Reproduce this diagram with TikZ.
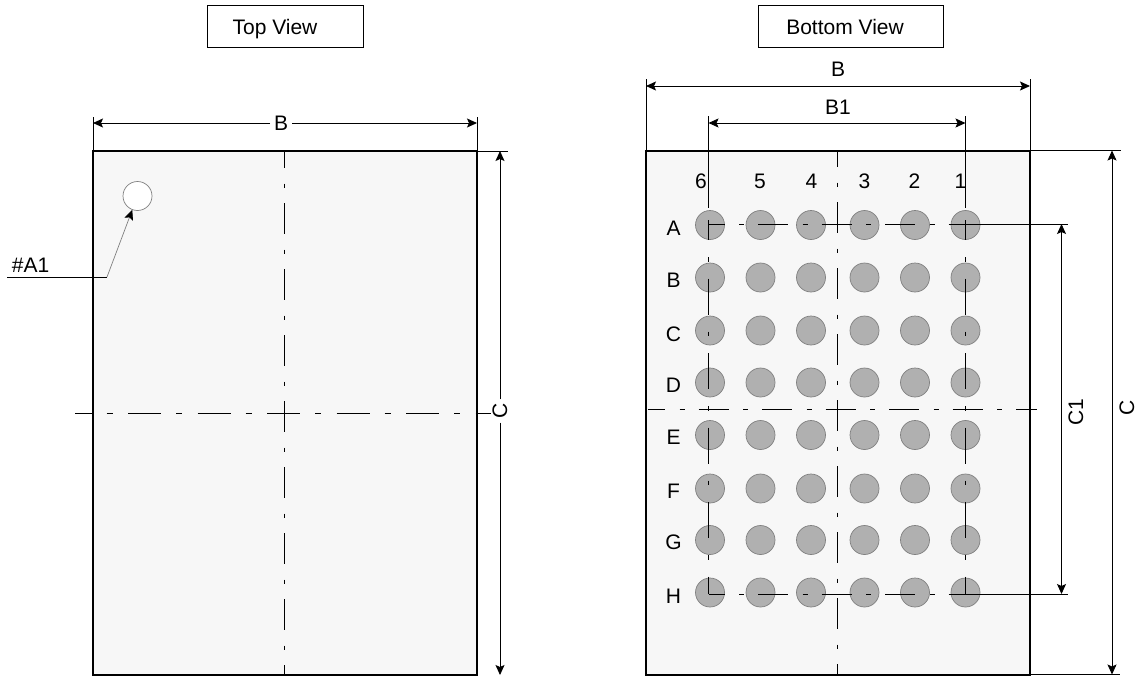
\documentclass[tikz,border=0pt]{standalone}
\usepackage{fontspec}
\setmainfont{Liberation Sans}
\usepackage{tikz}
\usetikzlibrary{arrows.meta, positioning}
\colorlet{colorPackage}{black!3}
\colorlet{colorBall}{black!31}
\colorlet{colorBallEdge}{black!50}
\tikzset{
  outline/.style={draw=black, line width=2pt, fill=colorPackage, inner sep=0, outer sep=0},
  titlebox/.style={draw=black, line width=0.8pt, inner sep=0, outer sep=0, minimum height=42pt},
  label/.style={inner sep=0, outer sep=4pt, font=\fontsize{21}{24}\selectfont},
  ball/.style={circle, draw=colorBallEdge, line width=0.7pt, fill=colorBall, inner sep=0, outer sep=0, minimum size=29pt},
  dim/.style={line width=0.9pt},
  centerLong/.style={line width=0.9pt, dash pattern=on 31pt off 15.5pt on 4.5pt off 15pt},
  centerHoriz/.style={line width=0.9pt, dash pattern=on 33pt off 15pt on 6pt off 15.5pt},
  centerWide/.style={line width=0.9pt, dash pattern=on 30pt off 14.5pt on 5pt off 14pt},
  centerBall/.style={line width=0.9pt, dash pattern=on 36pt off 17pt on 4.5pt off 17pt}
}

\begin{document}
\begin{tikzpicture}[>={Stealth[length=10pt, width=9pt, inset=2pt]}, x=1pt, y=-1pt]
\useasboundingbox (0,0) rectangle (1139,675);
% titles
\node[titlebox, minimum width=156pt] (topTitle) at (285.5,26.3) {};
\node[label] (topText) at (275,29) {Top View};
\node[titlebox, minimum width=185pt] (botTitle) at (851,26.3) {};
\node[label] (botText) at (845,27) {Bottom View};
% packages
\node[outline, minimum width=384pt, minimum height=524pt] (top) at (285,413) {};
\node[outline, minimum width=384pt, minimum height=524pt] (bot) at (838,412.5) {};
% top view
\coordinate (topCL1) at (284.5,151);
\coordinate (topCL2) at (284.5,675);
\coordinate (topCH1) at (75,413.3);
\coordinate (topCH2) at (491,413.3);
\node[label, rotate=90] (topC) at (500,411) {C};
\draw[centerLong, dash phase=14pt] (topCL1) -- (topCL2);
\draw[centerHoriz, dash phase=16.5pt] (topCH1) -- (topCH2);
\node[circle, draw=colorBallEdge, line width=0.7pt, fill=white, inner sep=0, minimum size=29pt] (a1) at (137.5,196) {};
\node[label, anchor=south west, inner sep=0, outer sep=0] (a1Text) at (12,272) {\#A1};
\coordinate (a1Start) at (7,277);
\coordinate (a1Knee) at (107,277);
\draw[dim] (a1Start) -- (a1Knee);
\draw[black!50, line width=0.7pt, {Stealth[length=10pt, width=9pt, inset=2pt, black]}-] (a1) -- (a1Knee);
\coordinate (topBL) at (93,117);
\coordinate (topBR) at (477,117);
\coordinate (topBLa) at (93,123);
\coordinate (topBRa) at (477,123);
\node[label] (topB) at (281,123) {B};
\draw[dim] (top.north west) -- (topBL);
\draw[dim] (top.north east) -- (topBR);
\draw[dim, ->] (topB) -- (topBLa);
\draw[dim, ->] (topB) -- (topBRa);
\coordinate (topCx) at (508,151);
\coordinate (topCt) at (500,151);
\coordinate (topCb) at (500,675);
\draw[dim] (top.north east) -- (topCx);
\draw[dim, ->] (topC) -- (topCt);
\draw[dim, ->] (topC) -- (topCb);
% balls
\foreach \rowname/\y in {A/225,B/277.5,C/330.5,D/382.5,E/435,F/488.5,G/540,H/592.5}
  \foreach \colname/\x in {6/710,5/760.5,4/811,3/864.5,2/915,1/965.5}
    \node[ball] (b\rowname\colname) at (\x,\y) {};
\foreach \colname/\x/\tx in {6/710/701,5/760.5/760,4/811/811.5,3/864.5/864.5,2/915/914.5,1/965.5/960.5}
  \node[label] (c\colname) at (\tx,181) {\colname};
\foreach \rowname/\y in {A/228,B/280,C/334,D/385,E/437,F/491,G/542,H/596}
  \node[label] (r\rowname) at (673.5,\y) {\rowname};
% bottom view center lines
\coordinate (botCL1) at (837.5,151);
\coordinate (botCL2) at (837.5,675);
\coordinate (botCH1) at (648,409.5);
\coordinate (botCH2) at (1037,409.5);
\draw[centerLong, dash phase=15pt] (botCL1) -- (botCL2);
\draw[centerWide, dash phase=13pt] (botCH1) -- (botCH2);
% ball center lines
\coordinate (lineL1) at (708.5,220);
\coordinate (lineL2) at (708.5,594);
\coordinate (lineR1) at (965.5,220);
\coordinate (lineR2) at (965.5,594);
\coordinate (lineT1) at (708.5,224);
\coordinate (lineT2) at (965.5,224);
\coordinate (lineB1) at (708.5,594);
\coordinate (lineB2) at (965.5,594);
\draw[centerBall, dash phase=16pt] (lineL1) -- (lineL2);
\draw[centerBall, dash phase=16pt] (lineR1) -- (lineR2);
\draw[centerWide, dash phase=14pt] (lineT1) -- (lineT2);
\draw[centerWide, dash phase=14pt] (lineB1) -- (lineB2);
% bottom view dimensions
\coordinate (botBL) at (646,79);
\coordinate (botBR) at (1030,79);
\coordinate (botBLa) at (646,86);
\coordinate (botBRa) at (1030,86);
\node[label] (botB) at (838,69) {B};
\draw[dim] (bot.north west) -- (botBL);
\draw[dim] (bot.north east) -- (botBR);
\draw[dim, <->] (botBLa) -- (botBRa);
\coordinate (botB1L) at (708.5,116);
\coordinate (botB1R) at (965.5,116);
\coordinate (botB1Le) at (708.5,208);
\coordinate (botB1Re) at (965.5,208);
\coordinate (botB1La) at (708.5,123);
\coordinate (botB1Ra) at (965.5,123);
\node[label] (botB1) at (838,107) {B1};
\draw[dim] (botB1L) -- (botB1Le);
\draw[dim] (botB1R) -- (botB1Re);
\draw[dim, <->] (botB1La) -- (botB1Ra);
\coordinate (botC1T) at (1068,224);
\coordinate (botC1B) at (1068,594);
\coordinate (botC1Ta) at (1061.5,224);
\coordinate (botC1Ba) at (1061.5,594);
\node[label, rotate=90] (botC1) at (1076,412) {C1};
\draw[dim] (lineT2) -- (botC1T);
\draw[dim] (lineB2) -- (botC1B);
\draw[dim, <->] (botC1Ta) -- (botC1Ba);
\coordinate (botCT) at (1121,150.5);
\coordinate (botCB) at (1120,674.5);
\coordinate (botCTa) at (1112,150.5);
\coordinate (botCBa) at (1112,674.5);
\node[label, rotate=90] (botC) at (1127,408) {C};
\draw[dim] (bot.north east) -- (botCT);
\draw[dim] (bot.south east) -- (botCB);
\draw[dim, <->] (botCTa) -- (botCBa);
\end{tikzpicture}
\end{document}
